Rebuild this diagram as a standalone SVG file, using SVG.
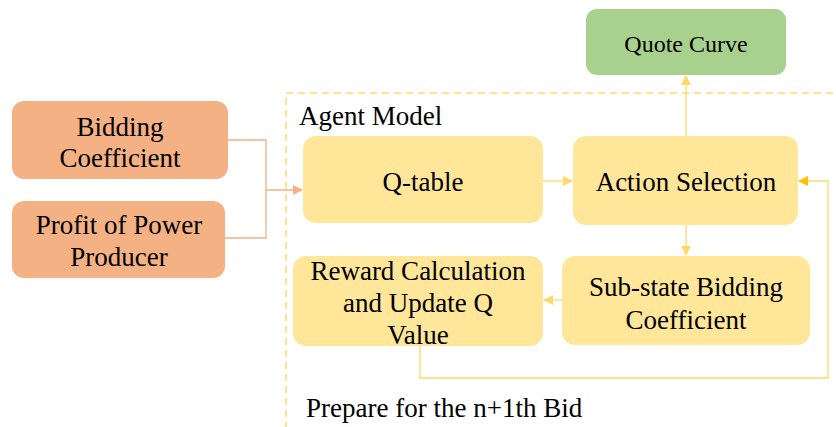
<svg xmlns="http://www.w3.org/2000/svg" width="836" height="427" viewBox="0 0 836 427">
<style>
text{font-family:'Liberation Serif','Times New Roman','DejaVu Serif',serif;font-size:27px;fill:#000}
.t{text-anchor:middle}
.or{fill:#F4B183}
.ye{fill:#FFE699}
.gr{fill:#A9D18E}
.c{fill:none;stroke-width:1.3}
</style>
<defs>
<marker id="ao" markerWidth="10" markerHeight="10" refX="9" refY="5" orient="auto" markerUnits="userSpaceOnUse"><path d="M0,0 L10,5 L0,10 z" fill="#F4B183"/></marker>
<marker id="ay" markerWidth="10" markerHeight="10" refX="9" refY="5" orient="auto" markerUnits="userSpaceOnUse"><path d="M0,0 L10,5 L0,10 z" fill="#FFD966"/></marker>
<marker id="ad" markerWidth="10" markerHeight="10" refX="9" refY="5" orient="auto" markerUnits="userSpaceOnUse"><path d="M0,0 L10,5 L0,10 z" fill="#FFC000"/></marker>
</defs>
<rect width="836" height="427" fill="#fff"/>
<rect x="286" y="93" width="570" height="360" fill="none" stroke="#FFD966" stroke-width="1.5" stroke-dasharray="7,5"/>
<text x="299" y="125" font-family="Liberation Serif, serif">Agent Model</text>
<text x="306" y="417" font-family="Liberation Serif, serif">Prepare for the n+1th Bid</text>
<g id="connectors">
<path class="c" stroke="#F4B183" d="M228,140 H266 V238 H225"/>
<path class="c" stroke="#F4B183" d="M266,190 H302" marker-end="url(#ao)"/>
<path class="c" stroke="#FFD966" d="M543,181 H572" marker-end="url(#ay)"/>
<path class="c" stroke="#FFD966" d="M686,136 V76" marker-end="url(#ay)"/>
<path class="c" stroke="#FFD966" d="M686,225 V255" marker-end="url(#ay)"/>
<path class="c" stroke="#FFD966" d="M562,300 H544" marker-end="url(#ay)"/>
<path class="c" stroke="#FFD966" d="M420,346 V378 H828 V181 H799" marker-end="url(#ad)"/>
</g>
<g id="bidding"><rect class="or" x="12" y="101" width="216" height="78" rx="12"/><text class="t" x="120" y="136">Bidding</text><text class="t" x="120" y="167">Coefficient</text></g>
<g id="profit"><rect class="or" x="12" y="201" width="213" height="77" rx="12"/><text class="t" x="119" y="234">Profit of Power</text><text class="t" x="119" y="266">Producer</text></g>
<g id="qtable"><rect class="ye" x="303" y="136" width="240" height="87" rx="13"/><text class="t" x="423" y="191">Q-table</text></g>
<g id="action"><rect class="ye" x="573" y="136" width="225" height="89" rx="13"/><text class="t" x="686" y="191">Action Selection</text></g>
<g id="quote"><rect class="gr" x="586" y="9" width="200" height="66" rx="11"/><text class="t" x="686" y="52" style="font-size:24px">Quote Curve</text></g>
<g id="substate"><rect class="ye" x="562" y="256" width="248" height="89" rx="13"/><text class="t" x="686" y="296">Sub-state Bidding</text><text class="t" x="686" y="329">Coefficient</text></g>
<g id="reward"><rect class="ye" x="293" y="256" width="250" height="90" rx="13"/><text class="t" x="418" y="280">Reward Calculation</text><text class="t" x="418" y="312">and Update Q</text><text class="t" x="418" y="344">Value</text></g>
</svg>
